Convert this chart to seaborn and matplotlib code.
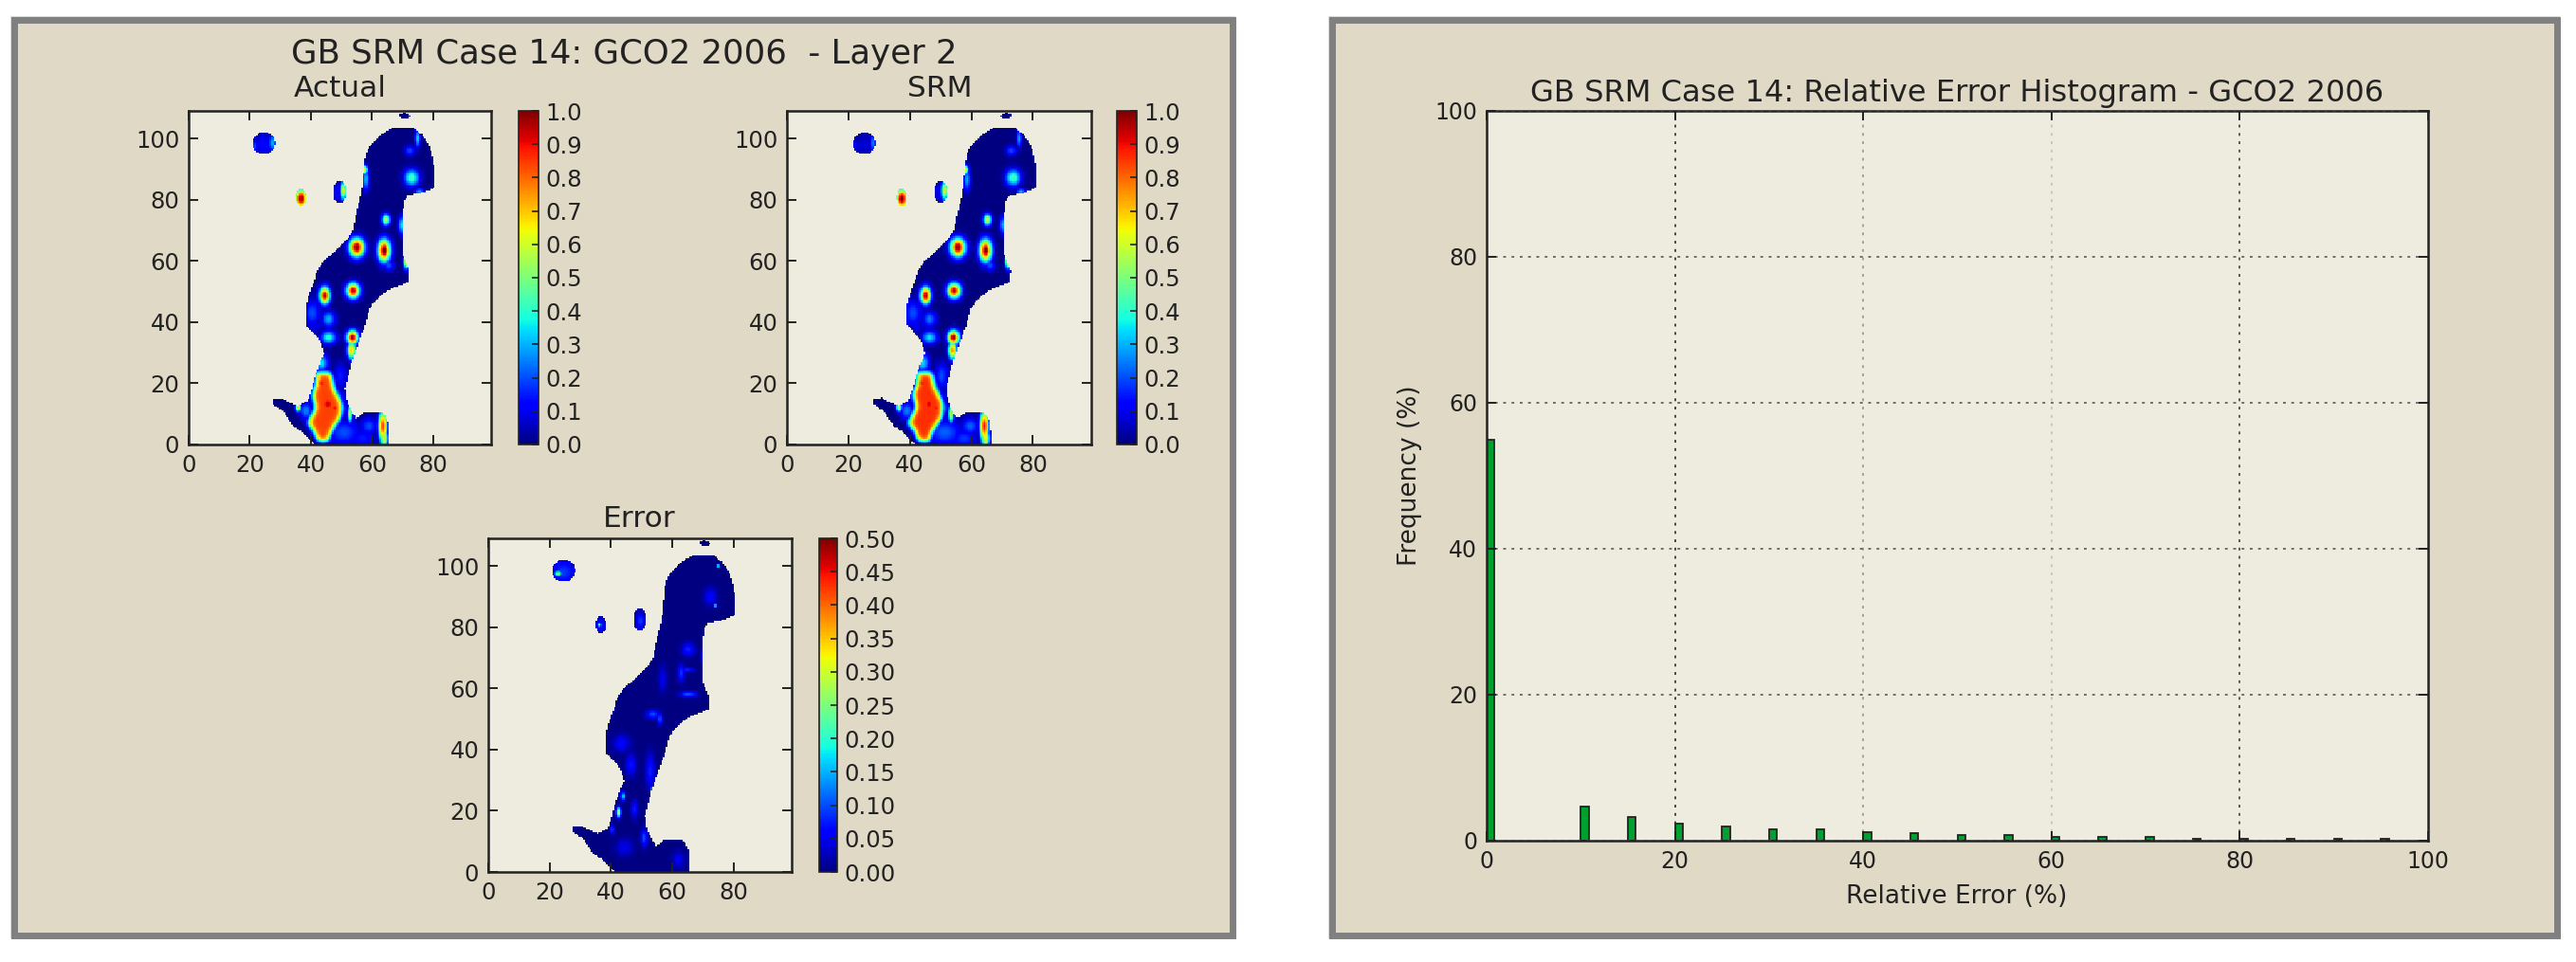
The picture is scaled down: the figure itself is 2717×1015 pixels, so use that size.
import numpy as np
import pandas as pd
import matplotlib
matplotlib.use("Agg")
import matplotlib.pyplot as plt
from matplotlib.patches import Rectangle
from matplotlib.path import Path
import seaborn as sns

W, H = 2717, 1015
PANEL = "#DFD9C5"; AXBG = "#EEEBDF"; BORDER = "#808080"; INK = "#222222"

# ---- data ----
MAP_TITLE = "GB SRM Case 14: GCO2 2006  - Layer 2"
HIST_TITLE = "GB SRM Case 14: Relative Error Histogram - GCO2 2006"
MAP_TICKS_X = [0, 20, 40, 60, 80]
MAP_TICKS_Y = [0, 20, 40, 60, 80, 100]
CBAR_TICKS = [0.0, 0.1, 0.2, 0.3, 0.4, 0.5, 0.6, 0.7, 0.8, 0.9, 1.0]
ERR_TICKS = [0.0, 0.05, 0.10, 0.15, 0.20, 0.25, 0.30, 0.35, 0.40, 0.45, 0.50]

OUTLINE_X = [41.4,39.4,37.3,34.2,32.7,31.1,27.5,27.5,30.1,32.7,35.8,38.9,40.4,41.4,43,44.3,43,40.4,38.4,38.4,38.9,39.9,40.9,42,44,47.6,51.8,53.8,54.8,55.9,56.7,56.9,57.4,57.9,59.5,62.6,67.2,73.4,76.5,78.6,79.6,80.4,80.6,80.1,75.5,71.9,70.5,70.1,70.1,69.8,72.2,71.9,65.2,61.5,59,57.9,56.9,55.9,54.3,53.3,52.3,51.2,51.8,53.3,54.8,57.9,63.1,65.2,65.7,65.7]
OUTLINE_Y = [0,1.9,3.9,6,8.1,10.7,13.2,14.8,15.3,13.8,12.7,14.3,18.4,22.5,26.7,29.8,33.9,37,39.1,44.3,47.4,50.5,53,56.7,59.8,62.9,67,70.1,75.3,79.4,83.6,85.6,90.8,94.9,98,101.1,103.7,103.7,101.1,98,94.9,90.8,85.6,83.6,82,81.5,79.4,75.3,70.1,62.9,56.7,53,50.5,47.4,44.3,39.1,37,33.9,29.8,26.7,22.5,18.4,14.3,10.7,8.6,10.7,10.7,8.1,3.9,0]
ISLAND_X = [24.6, 36.8, 49.4, 70.7]
ISLAND_Y = [98.4, 80.7, 82.5, 107.3]
ISLAND_RX = [3.7, 1.7, 2.1, 1.7]
ISLAND_RY = [3.6, 2.9, 3.7, 1.0]

# the hot mass at the foot of the map
MASS_X = [41.5,46.5,47.6,50.2,49.7,46.6,45.6,42.5,40.4,38.9,41.5,40.4,42]
MASS_Y = [23.6,23.6,18.4,13.2,9,3.9,0.8,0.8,5.4,7,12.2,16.3,20.5]
MASS_LEVEL = [0.84, 0.86]  # Actual, SRM

SPOT_X  = [55,64,65.5,53.8,44.5,53.6,53.3,64.6,73,75,72.4,57.4,58,45.8,45.8,40.4,41.4,69.8,71.3,75.5,27.5,21.5,24.6,36.8,50.7,49,45.6,47.8,43.5,44.5,50.7,43.5,49.7,63.6,64,59,52.8,35.8,38.4,57]
SPOT_Y  = [64.4,63.4,58.5,50.3,48.7,35,30.8,73.4,87.2,100,96,89.8,86.7,41,35,43,39,71.7,59.8,82.5,98.6,97.5,98,80.3,83,82.5,13.2,12,20,7,4,26.7,22.5,6,2,6,10,12.2,11,2]
SPOT_SX = [1.7,1.4,1.2,1.5,1.2,1.3,1.0,0.9,1.7,0.6,1.2,0.7,0.7,1.5,1.7,2,2,0.8,0.7,1,0.8,0.8,2.5,1.5,0.8,1.2,2.6,1.8,1.5,2.5,4,1.5,1.5,1,1,2,0.6,0.6,1.5,3]
SPOT_SY = [2.1,2.5,1.2,1.7,1.9,1.6,2,1.3,1.9,2,1.2,1,2.5,1.8,1.5,3,2,2,1.6,0.8,2,1.5,2.5,2.4,2.2,2.5,3,2,2.2,1.5,3,2,3,3.5,2,2,2,1,2,2]
ACTUAL_PEAK = [1.02,1.02,.2,.95,.96,.98,.7,.6,.45,.35,.2,.75,.3,.3,.4,.2,.1,.35,.7,.3,.3,.2,.13,1.0,.6,.12,.93,.9,.9,.8,.2,.35,.15,.85,.6,.2,.55,.7,.25,.15]
SRM_PEAK    = [1.0,1.0,.2,.95,.96,.98,.75,.65,.45,.3,.2,.7,.3,.25,.35,.2,.1,.3,.65,.3,.25,.12,.08,1.0,.6,.12,.92,.9,.9,.8,.22,.35,.2,.9,.65,.22,.6,.7,.25,.18]

ERR_X  = [65.3,63,65.3,65,57,53.7,56,75,74,72.5,22.8,24.6,36.3,36.8,49.7,44,42.5,47.7,40.4,50.8,52.8,53.4,46.6,43.5,70,44.5,62]
ERR_Y  = [72.7,65,58,66,63,51.5,50,100,87,90,97.5,98,80.7,80.5,82,24.7,19.5,20.5,13.8,11.2,33,27,35,42,70.5,8,4]
ERR_SX = [1.5,.8,2,1.5,1,1.5,.6,.35,.4,1.5,.8,3,.4,1.2,1,.6,.5,.8,.6,.8,1,.4,1.2,2,.4,2,1.5]
ERR_SY = [1.5,2,.7,.6,3,1,1.3,.35,.4,2,.8,3,.5,2,2,1,1.2,2,1,2,4,1,2.5,2,1.5,2,2]
ERR_PEAK = [.08,.09,.11,.08,.05,.1,.1,.25,.2,.06,.25,.09,.2,.07,.09,.17,.3,.08,.09,.1,.08,.12,.07,.06,.08,.05,.05]

BIN_START = [0,10,15,20,25,30,35,40,45,50,55,60,65,70,75,80,85,90,95]
FREQUENCY = [55,4.7,3.3,2.3,2.0,1.6,1.5,1.2,1.0,0.8,0.8,0.5,0.5,0.5,0.2,0.2,0.2,0.2,0.2]
BAR_WIDTH = 0.85
HIST_TICKS = [0, 20, 40, 60, 80, 100]
GRID_ALPHA_X = [0.9, 0.4, 0.2, 0.8]
# ------------------------------------

SS = 2
NX, NY = 99 * SS, 109 * SS
cx, cy = np.meshgrid((np.arange(NX) + .5) / SS, (np.arange(NY) + .5) / SS)
pts = np.column_stack([cx.ravel(), cy.ravel()])

def land(dx=0.0):
    verts = np.column_stack([np.array(OUTLINE_X) + dx, OUTLINE_Y])
    m = Path(verts).contains_points(pts, radius=0.01).reshape(cx.shape)
    for x, y, rx, ry in zip(ISLAND_X, ISLAND_Y, ISLAND_RX, ISLAND_RY):
        m |= ((cx - x - dx) / rx) ** 2 + ((cy - y) / ry) ** 2 <= 1
    return m

def soften(a, sigma):
    r = np.arange(-int(4 * sigma * SS), int(4 * sigma * SS) + 1) / SS
    k = np.exp(-(r / sigma) ** 2 / 2); k /= k.sum()
    a = np.apply_along_axis(lambda v: np.convolve(v, k, mode="same"), 0, a)
    return np.apply_along_axis(lambda v: np.convolve(v, k, mode="same"), 1, a)

def field(xs, ys, sxs, sys_, peaks, dx=0.0, level=None):
    z = np.zeros_like(cx)
    for x, y, sx, sy, p in zip(xs, ys, sxs, sys_, peaks):
        z = np.maximum(z, p * np.exp(-((cx - x - dx) / sx) ** 2 / 2 - ((cy - y) / sy) ** 2 / 2))
    if level is not None:
        inside = Path(np.column_stack([np.array(MASS_X) + dx, MASS_Y])).contains_points(pts).reshape(cx.shape)
        z = np.maximum(z, soften(inside * level, 0.9))
    return z

plt.rcParams["font.family"] = "DejaVu Sans"
fig = plt.figure(figsize=(W / 100, H / 100), dpi=100, facecolor="white")

def rect(l, t, r, b):
    return [l / W, 1 - b / H, (r - l) / W, (b - t) / H]

for l, r in [(11, 1303), (1401, 2700)]:
    fig.patches.append(Rectangle((l / W, 1 - 990 / H), (r - l) / W, (990 - 17) / H,
                                 transform=fig.transFigure, fc=PANEL, ec="none", zorder=-5))
    fig.patches.append(Rectangle(((l + 3.5) / W, 1 - 986.5 / H), (r - l - 7) / W, (986.5 - 20.5) / H,
                                 transform=fig.transFigure, fc="none", ec=BORDER, lw=5.0, zorder=-4))

def style(ax, size=17.5):
    ax.set_facecolor(AXBG)
    for s in ax.spines.values():
        s.set_visible(True); s.set_color(INK); s.set_linewidth(1.8)
    ax.tick_params(direction="in", length=7, width=1.4, top=True, right=True,
                   labelsize=size, colors=INK, pad=7)

def draw_map(box, cbox, z, m, vmax, cticks, fmt, title, tx, ty):
    ax = fig.add_axes(rect(*box)); cax = fig.add_axes(rect(*cbox))
    sns.heatmap(z, mask=~m, cmap="jet", vmin=0, vmax=vmax, ax=ax, cbar_ax=cax,
                xticklabels=False, yticklabels=False)
    ax.set_xlim(0, NX); ax.set_ylim(0, NY)
    ax.set_xticks(np.array(MAP_TICKS_X) * SS); ax.set_xticklabels(MAP_TICKS_X)
    ax.set_yticks(np.array(MAP_TICKS_Y) * SS); ax.set_yticklabels(MAP_TICKS_Y, rotation=0)
    style(ax)
    cb = ax.collections[0].colorbar
    cb.set_ticks(cticks); cb.set_ticklabels([fmt % v for v in cticks])
    cb.outline.set_visible(True); cb.outline.set_edgecolor(INK); cb.outline.set_linewidth(1.2)
    cax.tick_params(direction="in", length=5, width=1.2, labelsize=17.5, colors=INK, pad=5)
    fig.text(tx / W, 1 - ty / H, title, ha="center", va="center", fontsize=22.5, color=INK)

m0 = land()
draw_map((199, 117, 518, 469), (547, 117, 568, 469),
         field(SPOT_X, SPOT_Y, SPOT_SX, SPOT_SY, ACTUAL_PEAK, level=MASS_LEVEL[0]),
         m0, 1.0, CBAR_TICKS, "%.1f", "Actual", 359, 94)
draw_map((830, 117, 1151, 469), (1178, 117, 1199, 469),
         field(SPOT_X, SPOT_Y, SPOT_SX, SPOT_SY, SRM_PEAK, dx=0.6, level=MASS_LEVEL[1]),
         land(0.6), 1.0, CBAR_TICKS, "%.1f", "SRM", 991, 94)
draw_map((515, 568, 835, 920), (864, 568, 883, 920),
         field(ERR_X, ERR_Y, ERR_SX, ERR_SY, ERR_PEAK), m0, 0.5, ERR_TICKS, "%.2f", "Error", 674, 548)
fig.text(658 / W, 1 - 57 / H, MAP_TITLE, ha="center", va="center", fontsize=25.6, color=INK)

ax = fig.add_axes(rect(1568, 117, 2561, 887))
df = pd.DataFrame({"centre": np.array(BIN_START) + BAR_WIDTH / 2, "freq": FREQUENCY})
sns.barplot(data=df, x="centre", y="freq", native_scale=True, width=BAR_WIDTH / 5,
            color="#00A030", saturation=1, edgecolor="#222222", linewidth=1.3, ax=ax)
ax.set_xlim(0, 100); ax.set_ylim(0, 100)
ax.set_xticks(HIST_TICKS); ax.set_xticklabels(HIST_TICKS)
ax.set_yticks(HIST_TICKS); ax.set_yticklabels(HIST_TICKS)
style(ax, 17)
ax.set_axisbelow(False)
ax.grid(axis="y", color="#444444", ls=(0, (1.5, 3)), lw=1.4, alpha=.75)
for x, a in zip(HIST_TICKS[1:-1], GRID_ALPHA_X):
    ax.axvline(x, color="#333333", ls=(0, (1.5, 3)), lw=1.4, alpha=a, zorder=1)
ax.set_xlabel(""); ax.set_ylabel("")
fig.text(2064 / W, 1 - 99 / H, HIST_TITLE, ha="center", va="center", fontsize=23.1, color=INK)
fig.text(2064 / W, 1 - 946 / H, "Relative Error (%)", ha="center", va="center", fontsize=19, color=INK)
fig.text(1487 / W, 1 - 502 / H, "Frequency (%)", ha="center", va="center", rotation=90, fontsize=19, color=INK)

fig.savefig("out.png", dpi=100, facecolor="white")
